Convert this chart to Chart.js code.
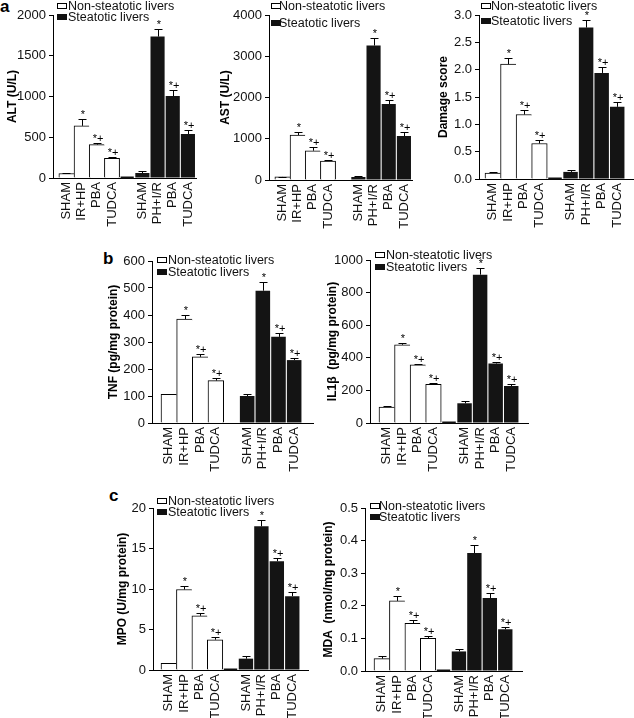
<!DOCTYPE html>
<html>
<head>
<meta charset="utf-8">
<script src="https://cdn.jsdelivr.net/npm/chart.js@4.4.0/dist/chart.umd.min.js"></script>
<style>
html,body{margin:0;padding:0;background:#fff;}
body{width:634px;height:718px;overflow:hidden;position:relative;font-family:"Liberation Sans",Arial,Helvetica,sans-serif;}
canvas{position:absolute;}
.letter{position:absolute;font:bold 17px/17px "Liberation Sans",Arial,sans-serif;color:#000;}
</style>
</head>
<body>
<div class="letter" style="left:0px;top:-2px">a</div>
<div class="letter" style="left:103px;top:250px">b</div>
<div class="letter" style="left:109px;top:487px">c</div>
<script>
// ---------- DATA ----------
const categories = ['SHAM', 'IR+HP', 'PBA', 'TUDCA', '', 'SHAM', 'PH+I/R', 'PBA', 'TUDCA'];
const seriesNames = ['Non-steatotic livers', 'Steatotic livers'];
const marksNon = ['', '*', '*+', '*+'];
const marksSt = ['', '*', '*+', '*+'];

const altTicks = [0, 500, 1000, 1500, 2000];
const altNon = [55, 640, 410, 240];
const altNonErr = [3, 80, 20, 12];
const altSt = [60, 1735, 1005, 540];
const altStErr = [20, 95, 70, 48];

const astTicks = [0, 1000, 2000, 3000, 4000];
const astNon = [75, 1090, 710, 460];
const astNonErr = [5, 72, 95, 25];
const astSt = [70, 3260, 1840, 1065];
const astStErr = [25, 185, 95, 88];

const dmgTicks = [0, 0.5, 1.0, 1.5, 2.0, 2.5, 3.0];
const dmgNon = [0.11, 2.10, 1.18, 0.65];
const dmgNonErr = [0.01, 0.11, 0.09, 0.06];
const dmgSt = [0.13, 2.77, 1.94, 1.32];
const dmgStErr = [0.03, 0.13, 0.11, 0.09];

const tnfTicks = [0, 100, 200, 300, 400, 500, 600];
const tnfNon = [106, 385, 245, 157];
const tnfNonErr = [3, 14, 10, 8];
const tnfSt = [100, 490, 319, 233];
const tnfStErr = [9, 32, 13, 9];

const il1Ticks = [0, 200, 400, 600, 800, 1000];
const il1Non = [98, 480, 357, 238];
const il1NonErr = [6, 12, 8, 8];
const il1St = [121, 910, 365, 227];
const il1StErr = [12, 42, 12, 15];

const mpoTicks = [0, 5, 10, 15, 20];
const mpoNon = [0.82, 9.94, 6.69, 3.74];
const mpoNonErr = [0.08, 0.45, 0.30, 0.36];
const mpoSt = [1.40, 17.74, 13.43, 9.12];
const mpoStErr = [0.32, 0.74, 0.45, 0.53];

const mdaTicks = [0, 0.1, 0.2, 0.3, 0.4, 0.5];
const mdaNon = [0.038, 0.215, 0.146, 0.100];
const mdaNonErr = [0.008, 0.016, 0.009, 0.008];
const mdaSt = [0.060, 0.362, 0.224, 0.128];
const mdaStErr = [0.006, 0.023, 0.014, 0.008];

// ---------- PANELS (text + layout geometry) ----------
const panels = [
  {title: 'ALT (U/L)', ticks: altTicks, non: altNon, nonErr: altNonErr, st: altSt, stErr: altStErr, dec: 0,
   g: {axisX: 53, topY: 15, zeroY: 178, rightX: 200, barL: 59, barR: 199, titleX: 12, bx: 57, tx: 68, y1: 6, y2: 17, gap: true}},
  {title: 'AST (U/L)', ticks: astTicks, non: astNon, nonErr: astNonErr, st: astSt, stErr: astStErr, dec: 0,
   g: {axisX: 269, topY: 15, zeroY: 180, rightX: 416, barL: 275, barR: 415, titleX: 225, bx: 271, tx: 279, y1: 6, y2: 23, gap: false}},
  {title: 'Damage score', ticks: dmgTicks, non: dmgNon, nonErr: dmgNonErr, st: dmgSt, stErr: dmgStErr, dec: 1,
   g: {axisX: 479, topY: 15, zeroY: 179, rightX: 633, barL: 485, barR: 625, titleX: 443, bx: 481, tx: 491, y1: 6, y2: 21, gap: true}},
  {title: 'TNF (pg/mg protein)', ticks: tnfTicks, non: tnfNon, nonErr: tnfNonErr, st: tnfSt, stErr: tnfStErr, dec: 0,
   g: {axisX: 152, topY: 261, zeroY: 423, rightX: 313, barL: 161, barR: 302, titleX: 113, bx: 157, tx: 168, y1: 260, y2: 272, gap: false}},
  {title: 'IL1\u03b2  (pg/mg protein)', ticks: il1Ticks, non: il1Non, nonErr: il1NonErr, st: il1St, stErr: il1StErr, dec: 0,
   g: {axisX: 370, topY: 260, zeroY: 423, rightX: 528, barL: 379, barR: 519, titleX: 332, bx: 375, tx: 386, y1: 255, y2: 267, gap: true}},
  {title: 'MPO (U/mg protein)', ticks: mpoTicks, non: mpoNon, nonErr: mpoNonErr, st: mpoSt, stErr: mpoStErr, dec: 0,
   g: {axisX: 153, topY: 508, zeroY: 670, rightX: 308, barL: 161, barR: 300, titleX: 122, bx: 157, tx: 168, y1: 501, y2: 512, gap: true}},
  {title: 'MDA  (nmol/mg protein)', ticks: mdaTicks, non: mdaNon, nonErr: mdaNonErr, st: mdaSt, stErr: mdaStErr, dec: 1,
   g: {axisX: 365, topY: 508, zeroY: 671, rightX: 522, barL: 374, barR: 513, titleX: 328, bx: 370, tx: 379, y1: 506, y2: 517, gap: true}}
];

const FONT = '"Liberation Sans", Arial, Helvetica, sans-serif';
Chart.defaults.font.family = FONT;
Chart.defaults.font.size = 12;
Chart.defaults.color = '#111';
Chart.defaults.animation = false;

const asNon = v => [...v, null, null, null, null, null];
const asSt = v => [null, null, null, null, null, ...v];

const extras = {
  id: 'extras',
  afterDatasetsDraw(chart, args, o) {
    const ctx = chart.ctx;
    const x = chart.scales.x, y = chart.scales.y;
    ctx.save();
    if (o.gap) {
      const y0 = Math.round(y.getPixelForValue(0)) - 0.5;
      ctx.strokeStyle = '#111';
      ctx.lineWidth = 2;
      ctx.beginPath();
      ctx.moveTo(x.getPixelForValue(3.5) + 1, y0);
      ctx.lineTo(x.getPixelForValue(4.5) - 1, y0);
      ctx.stroke();
    }
    chart.data.datasets.forEach((ds, di) => {
      const meta = chart.getDatasetMeta(di);
      ds.data.forEach((v, i) => {
        if (v === null || v === undefined) return;
        const bx = Math.round(meta.data[i].x);
        const yb = y.getPixelForValue(v);
        const yt = Math.round(y.getPixelForValue(v + ds.errors[i])) + 0.5;
        ctx.strokeStyle = '#000';
        ctx.lineWidth = 1;
        ctx.beginPath();
        ctx.moveTo(bx + 0.5, yb);
        ctx.lineTo(bx + 0.5, yt);
        ctx.moveTo(bx - 3.5, yt);
        ctx.lineTo(bx + 4.5, yt);
        ctx.stroke();
        const m = ds.marks[i];
        if (m) {
          ctx.fillStyle = '#000';
          ctx.font = '11px ' + FONT;
          ctx.textAlign = 'center';
          ctx.textBaseline = 'alphabetic';
          ctx.fillText(m, bx + 1, yt - 1.5);
        }
      });
    });
    // legend
    const L = o.leg;
    const bx = L.bx - o.ox, tx = L.tx - o.ox;
    const r1 = L.y1 - o.oy, r2 = L.y2 - o.oy;
    ctx.fillStyle = '#fff';
    ctx.strokeStyle = '#000';
    ctx.lineWidth = 1;
    ctx.fillRect(bx + 0.5, Math.round(r1) - 2.5, 9, 5);
    ctx.strokeRect(bx + 0.5, Math.round(r1) - 2.5, 9, 5);
    ctx.fillStyle = '#111';
    ctx.fillRect(bx, Math.round(r2) - 3, 10, 6);
    ctx.font = '12.5px ' + FONT;
    ctx.textAlign = 'left';
    ctx.textBaseline = 'middle';
    ctx.fillText(chart.data.datasets[0].label, tx, r1 + 0.5);
    ctx.fillText(chart.data.datasets[1].label, tx, r2 + 0.5);
    ctx.restore();
  }
};

panels.forEach(p => {
  const g = p.g;
  const left = Math.round(g.titleX - 7);
  const yW = g.axisX - left;
  const padTop = 20, xH = 62, padRight = 8;
  const top = g.topY - padTop;
  const W = yW + (g.rightX - g.axisX) + padRight;
  const H = padTop + (g.zeroY - g.topY) + xH;
  const cv = document.createElement('canvas');
  cv.width = W; cv.height = H;
  cv.style.left = left + 'px';
  cv.style.top = top + 'px';
  document.body.appendChild(cv);
  const slot = (g.barR - g.barL) / 9;
  const gl = (g.barL - g.axisX) / slot;
  const gr = (g.rightX - g.barR) / slot;
  new Chart(cv, {
    type: 'bar',
    data: {
      labels: categories,
      datasets: [
        {label: seriesNames[0], data: asNon(p.non), errors: asNon(p.nonErr), marks: asNon(marksNon),
         backgroundColor: '#fff', borderColor: '#000',
         borderWidth: c => ({top: 1, left: 1, right: c.dataIndex === 3 ? 1 : 0, bottom: 0}),
         borderSkipped: false, barPercentage: 1, categoryPercentage: 1, grouped: false},
        {label: seriesNames[1], data: asSt(p.st), errors: asSt(p.stErr), marks: asSt(marksSt),
         backgroundColor: '#141414', borderColor: '#141414', borderWidth: 0,
         barPercentage: 0.93, categoryPercentage: 1, grouped: false}
      ]
    },
    options: {
      responsive: false,
      devicePixelRatio: 1,
      animation: false,
      layout: {padding: {top: padTop, right: padRight, left: 0, bottom: 0}},
      plugins: {
        legend: {display: false},
        tooltip: {enabled: false},
        extras: {gap: g.gap, ox: left, oy: top, leg: {bx: g.bx, tx: g.tx, y1: g.y1, y2: g.y2}}
      },
      scales: {
        x: {
          type: 'category',
          offset: true,
          grid: {display: true, drawOnChartArea: false, drawTicks: false},
          border: {display: true, color: '#000', width: 1},
          ticks: {autoSkip: false, minRotation: 90, maxRotation: 90, padding: 4, color: '#111', font: {size: 13}},
          afterFit: s => { s.height = xH; },
          afterBuildTicks: s => { s._startValue = -0.5 - gl; s._valueRange = 9 + gl + gr; }
        },
        y: {
          min: p.ticks[0],
          max: p.ticks[p.ticks.length - 1],
          grid: {display: true, drawOnChartArea: false, drawTicks: true, tickLength: 4, color: '#000', tickColor: '#000'},
          border: {display: true, color: '#000', width: 1},
          ticks: {padding: 3, color: '#111', font: {size: 13}, callback: v => Number(v).toFixed(p.dec)},
          title: {display: true, text: p.title, color: '#000', padding: 0, font: {size: 12, weight: 'bold'}},
          afterBuildTicks: s => { s.ticks = p.ticks.map(v => ({value: v})); },
          afterFit: s => { s.width = yW; }
        }
      }
    },
    plugins: [extras]
  });
});
</script>
</body>
</html>
